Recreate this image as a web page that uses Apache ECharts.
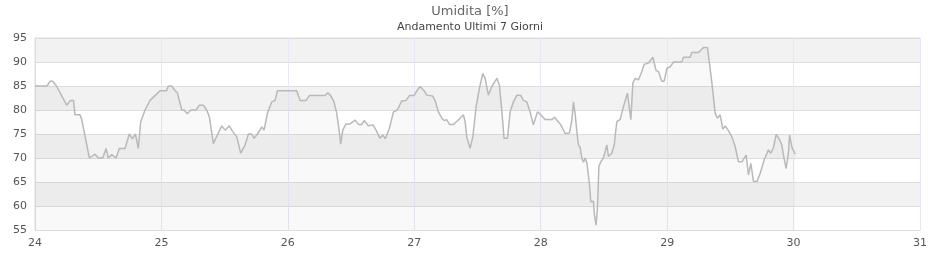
<!DOCTYPE html>
<html>
<head>
<meta charset="utf-8">
<script src="https://cdn.jsdelivr.net/npm/echarts@6/dist/echarts.min.js"></script>
<style>html,body{margin:0;padding:0;background:#fff}#c{width:940px;height:260px}</style>
</head>
<body>
<div id="c"></div>
<script>
const titleText = 'Umidita [%]';
const subtitleText = 'Andamento Ultimi 7 Giorni';
const xTicks = [24, 25, 26, 27, 28, 29, 30, 31];
const yTicks = [55, 60, 65, 70, 75, 80, 85, 90, 95];

// [day, humidity %]
const day24 = [[24.000,85],[24.095,85],[24.120,86],[24.140,86],[24.170,85],[24.251,81],[24.265,81],[24.280,82],[24.305,82],[24.316,79],[24.356,79],[24.370,78],[24.430,70],[24.475,70.8],[24.501,70],[24.536,70],[24.562,72],[24.580,70],[24.607,70.7],[24.641,70],[24.667,72],[24.712,72],[24.746,75],[24.770,74],[24.794,75],[24.817,72],[24.836,77.5],[24.870,80],[24.910,82],[24.949,83],[24.989,84]];
const day25 = [[25.040,84],[25.055,85],[25.081,85],[25.108,84],[25.126,83.6],[25.161,80],[25.179,80],[25.205,79.2],[25.232,80],[25.274,80],[25.300,81],[25.332,81],[25.358,80],[25.379,78.6],[25.411,73],[25.442,74.8],[25.477,76.7],[25.503,75.8],[25.537,76.7],[25.564,75.5],[25.596,74.4],[25.627,71],[25.661,72.7],[25.688,75],[25.714,75],[25.733,74.1],[25.759,75],[25.794,76.5],[25.812,75.8],[25.838,79.3],[25.873,81.7],[25.899,82],[25.917,84]];
const day26 = [[26.070,84],[26.097,82],[26.144,82],[26.170,83],[26.294,83],[26.315,83.6],[26.339,83],[26.365,81.7],[26.387,79.3],[26.405,75.8],[26.418,72.9],[26.434,75.8],[26.460,77.1],[26.492,77.1],[26.532,77.9],[26.558,77],[26.585,77],[26.603,77.8],[26.637,76.7],[26.672,76.9],[26.698,75.8],[26.729,74.1],[26.751,74.8],[26.771,74],[26.803,76.2],[26.835,79.6],[26.866,80],[26.901,81.9],[26.935,82],[26.961,83],[26.998,83]];
const day27 = [[27.020,84],[27.046,84.9],[27.078,84],[27.099,83.1],[27.146,82.9],[27.165,81.9],[27.191,79.6],[27.218,78.3],[27.236,77.8],[27.257,78],[27.278,77],[27.309,77],[27.336,77.6],[27.362,78.3],[27.388,79],[27.402,77.6],[27.415,74.4],[27.441,72],[27.463,74.4],[27.489,80.7],[27.515,84.5],[27.542,87.6],[27.560,86.6],[27.586,83.1],[27.613,84.9],[27.653,86.6],[27.673,85.2],[27.692,80],[27.710,74.1],[27.737,74.1],[27.758,79.6],[27.784,81.7],[27.811,83.1],[27.843,83],[27.863,82],[27.890,81.7],[27.916,79.6],[27.942,76.9],[27.974,79.6]];
const day28 = [[28.001,79],[28.035,78],[28.088,78],[28.110,78.5],[28.130,77.8],[28.159,76.9],[28.193,75.1],[28.227,75.2],[28.246,77.9],[28.259,81.7],[28.272,79.3],[28.286,75.5],[28.298,72.7],[28.312,72.2],[28.325,70],[28.338,69.1],[28.351,70],[28.365,69],[28.385,64.7],[28.396,60.9],[28.417,61],[28.425,58.1],[28.438,56],[28.449,59.9],[28.460,68.2],[28.475,69.2],[28.496,70],[28.523,72.7],[28.536,70.3],[28.562,71],[28.581,72.7],[28.602,77.6],[28.628,78],[28.654,80.7],[28.686,83.5],[28.699,83.5],[28.713,78],[28.729,85.6],[28.747,86.6],[28.773,86.3],[28.794,87.6],[28.818,89.5],[28.852,89.8],[28.887,91],[28.913,88.2],[28.931,88],[28.958,86],[28.976,86],[28.998,88.7]];
const day29 = [[29.024,89],[29.050,90],[29.116,90],[29.129,91],[29.182,91],[29.195,92],[29.248,92],[29.267,92.5],[29.287,93],[29.319,93],[29.335,89.7],[29.354,85.6],[29.380,79.3],[29.398,78.3],[29.419,79],[29.441,76],[29.459,76.7],[29.485,75.7],[29.512,74.4],[29.538,72.4],[29.564,69.2],[29.591,69.2],[29.625,70.6],[29.643,66.5],[29.662,68.9],[29.683,65.1],[29.710,65.1],[29.736,66.8],[29.767,69.6],[29.801,71.7],[29.820,71],[29.841,72.2],[29.862,74.9],[29.888,73.9],[29.907,72.7],[29.920,70.6],[29.941,67.8],[29.960,71.3],[29.968,74.8],[29.987,72.2],[30.013,70.8]];

const humidity = [].concat(day24, day25, day26, day27, day28, day29);

const chart = echarts.init(document.getElementById('c'), null, {renderer: 'canvas'});
const font = 'DejaVu Sans';
chart.setOption({
  animation: false,
  backgroundColor: '#ffffff',
  title: {
    text: titleText,
    subtext: subtitleText,
    left: 'center',
    top: 0,
    itemGap: 4,
    textStyle: {fontFamily: font, fontSize: 13, fontWeight: 'normal', color: '#666'},
    subtextStyle: {fontFamily: font, fontSize: 11, color: '#444'}
  },
  grid: {
    left: 35, right: 20, top: 38, bottom: 30,
    show: true, borderColor: '#dddddd', borderWidth: 1, backgroundColor: 'transparent'
  },
  xAxis: {
    type: 'value',
    min: xTicks[0], max: xTicks[xTicks.length - 1], interval: 1,
    axisLine: {show: true, lineStyle: {color: '#dddddd'}},
    axisTick: {show: false},
    axisLabel: {fontFamily: font, fontSize: 11, color: '#555', margin: 8},
    splitLine: {show: true, lineStyle: {color: '#e8e6f7', width: 1}}
  },
  yAxis: {
    type: 'value',
    min: yTicks[0], max: yTicks[yTicks.length - 1], interval: 5,
    axisLine: {show: true, lineStyle: {color: '#dddddd'}},
    axisTick: {show: false},
    axisLabel: {fontFamily: font, fontSize: 11, color: '#555', margin: 8},
    splitLine: {show: true, lineStyle: {color: '#dddddd', width: 1}},
    splitArea: {show: true, areaStyle: {color: ['#ffffff', '#f2f2f2']}}
  },
  series: [{
    type: 'line',
    data: humidity,
    showSymbol: false,
    smooth: false,
    lineStyle: {color: '#b9b9b9', width: 1.5},
    areaStyle: {color: 'rgba(0,0,0,0.03)', origin: 'start'}
  }]
});
</script>
</body>
</html>
